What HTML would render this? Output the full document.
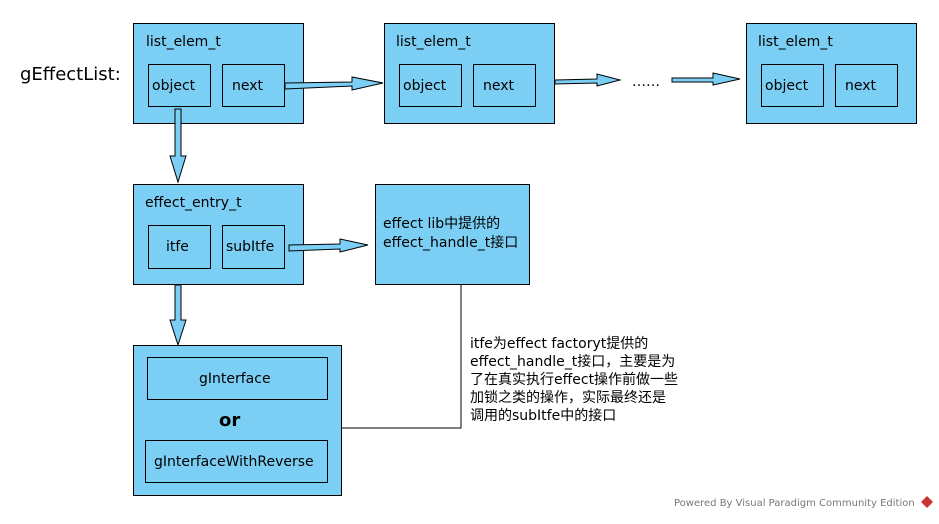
<!DOCTYPE html>
<html><head><meta charset="utf-8"><style>
body{margin:0;background:#fff;width:939px;height:519px;overflow:hidden}
svg text{font-family:"DejaVu Sans","Noto Sans CJK SC",sans-serif;font-size:14px;fill:#000}
</style></head><body>
<svg width="939" height="519" xmlns="http://www.w3.org/2000/svg">
<g fill="#7ccff4" stroke="#000" stroke-width="1">
<rect x="133.5" y="23.5" width="170" height="100"/>
<rect x="148.5" y="64.5" width="62" height="42"/>
<rect x="222.5" y="64.5" width="62" height="42"/>
<rect x="384.5" y="23.5" width="170" height="100"/>
<rect x="399.5" y="64.5" width="62" height="42"/>
<rect x="473.5" y="64.5" width="62" height="42"/>
<rect x="746.5" y="23.5" width="170" height="100"/>
<rect x="761.5" y="64.5" width="62" height="42"/>
<rect x="835.5" y="64.5" width="62" height="42"/>
<rect x="133.5" y="184.5" width="170" height="100"/>
<rect x="148.5" y="225.5" width="62" height="43"/>
<rect x="222.5" y="225.5" width="62" height="43"/>
<rect x="375.5" y="184.5" width="154" height="100"/>
<rect x="133.5" y="345.5" width="208" height="150"/>
<rect x="147.5" y="357.5" width="180" height="42"/>
<rect x="145.5" y="440.5" width="182" height="42"/>
<!-- arrows -->
<polygon points="285,83 352,82 352,77 383,83 352,90 352,86 285,89"/>
<polygon points="555,80 597,79 597,74 620,80 597,86 597,83 555,84"/>
<polygon points="672,78 713,78 713,73 740,79 713,85 713,82 672,82"/>
<polygon points="175,109 181,109 181,156 186,156 178,182 170,156 175,156"/>
<polygon points="175,285 181,285 181,320 186,320 178,345 170,320 175,320"/>
<polygon points="289,245 340,244 340,239 368,245 340,252 340,249 289,251"/>
</g>
<polyline points="461,284 461,428 341,428" fill="none" stroke="#000"/>
<text x="20" y="80" style="font-size:18px">gEffectList:</text>
<text x="146" y="46">list_elem_t</text>
<text x="396" y="46">list_elem_t</text>
<text x="758" y="46">list_elem_t</text>
<text x="152" y="90">object</text><text x="232" y="90">next</text>
<text x="403" y="90">object</text><text x="483" y="90">next</text>
<text x="765" y="90">object</text><text x="845" y="90">next</text>
<text x="632" y="86">……</text>
<text x="145" y="207">effect_entry_t</text>
<text x="166" y="251">itfe</text>
<text x="226" y="251">subItfe</text>
<text x="383" y="228">effect lib中提供的</text>
<text x="383" y="247">effect_handle_t接口</text>
<text x="199" y="383">gInterface</text>
<text x="219" y="426" style="font-size:18px;font-weight:bold">or</text>
<text x="154" y="466">gInterfaceWithReverse</text>
<text x="470" y="348">itfe为effect factoryt提供的</text>
<text x="470" y="366">effect_handle_t接口，主要是为</text>
<text x="470" y="384">了在真实执行effect操作前做一些</text>
<text x="470" y="402">加锁之类的操作，实际最终还是</text>
<text x="470" y="420">调用的subItfe中的接口</text>
<text x="674" y="506" style="font-size:10px;fill:#777">Powered By Visual Paradigm Community Edition</text>
<polygon points="927,496 933,502 927,508 921,502" fill="#c33"/>
</svg>
</body></html>
